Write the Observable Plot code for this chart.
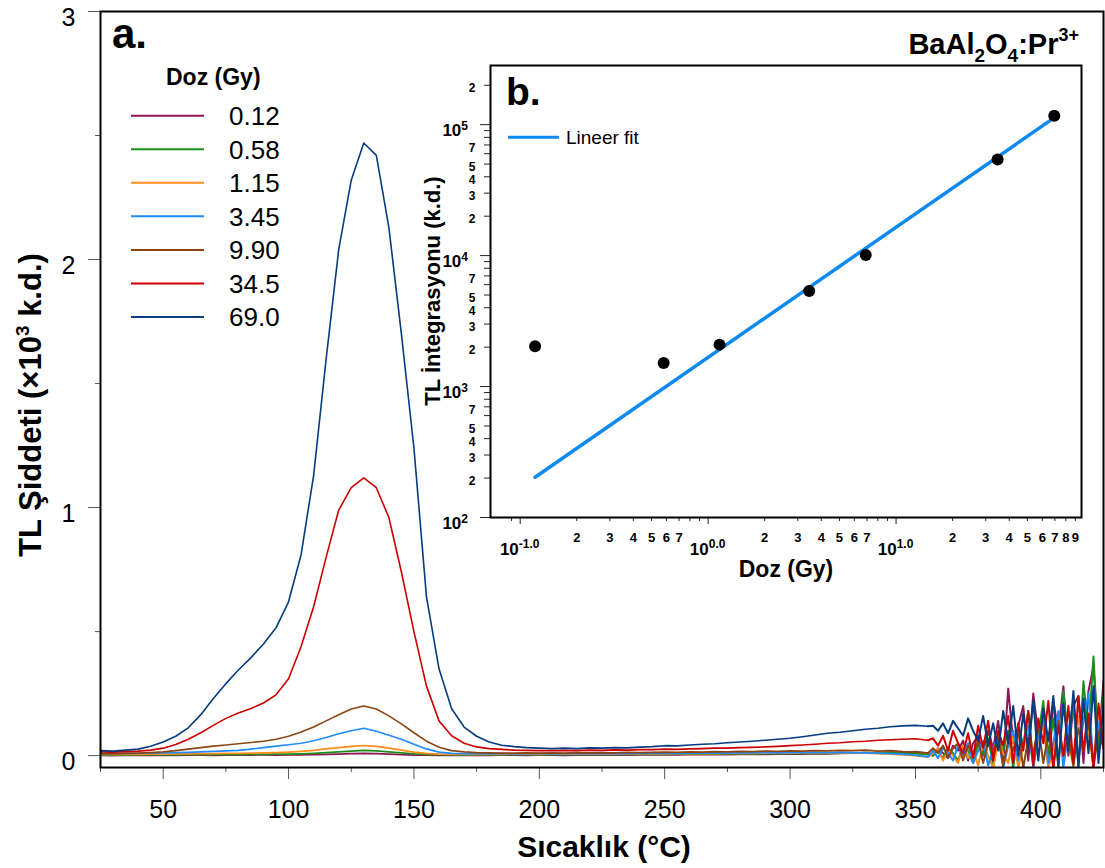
<!DOCTYPE html>
<html><head><meta charset="utf-8">
<script src="https://cdn.jsdelivr.net/npm/d3@7"></script>
<script src="https://cdn.jsdelivr.net/npm/@observablehq/plot@0.6"></script>
<style>
body{margin:0;background:#fff;font-family:"Liberation Sans",Arial,sans-serif;}
#wrap{position:relative;width:1105px;height:868px;overflow:hidden;}
#main,#inset{position:absolute;}
#main{left:0;top:0;}
#inset{left:420px;top:55px;}
</style></head><body><div id="wrap"><div id="main"></div><div id="inset"></div></div>
<script>
// ---------- data (panel a) ----------
const doses = ["0.12","0.58","1.15","3.45","9.90","34.5","69.0"];
const doseColors = ["#8c1654","#1a8f1a","#ff8c1a","#1e8cff","#8b4513","#cc0000","#063c82"];
const temps = [25,30,35,40,45,50,55,60,65,70,75,80,85,90,95,100,105,110,115,120,125,130,135,140,145,150,155,160,165,170,175,180,185,190,195,200,205,210,215,220,225,230,235,240,245,250,255,260,265,270,275,280,285,290,295,300,305,310,315,320,325,330,335,340,345,350,355,
  357,359,361,363,365,367,369,371,373,375,377,379,381,383,385,387,389,391,393,395,397,399,401,403,405,407,409,411,413,415,417,419,421,423,425];
const tl_0_12 = [0.001,0.000,0.001,0.002,0.001,0.002,0.001,0.002,0.002,0.001,0.002,0.002,0.002,0.003,0.002,0.003,0.003,0.004,0.005,0.006,0.008,0.009,0.008,0.006,0.004,0.002,0.002,0.001,0.002,0.001,0.002,0.001,0.002,0.002,0.001,0.002,0.002,0.001,0.002,0.003,0.002,0.003,0.002,0.003,0.003,0.004,0.003,0.004,0.004,0.005,0.004,0.005,0.006,0.005,0.006,0.007,0.006,0.008,0.007,0.009,0.010,0.012,0.010,0.014,0.012,0.016,0.010,
  0.00,0.03,0.01,-0.01,0.04,0.02,0.06,-0.02,0.05,0.08,0.00,0.10,0.03,0.14,-0.03,0.27,0.05,0.12,0.20,-0.02,0.25,0.08,0.18,-0.04,0.22,0.10,0.28,0.00,0.20,0.24,-0.03,0.26,0.36,0.05,0.30];
const tl_0_58 = [0.002,0.003,0.002,0.003,0.003,0.004,0.003,0.004,0.004,0.004,0.005,0.004,0.005,0.005,0.006,0.006,0.007,0.009,0.012,0.015,0.018,0.021,0.019,0.015,0.011,0.007,0.005,0.004,0.003,0.004,0.003,0.004,0.003,0.004,0.004,0.003,0.004,0.004,0.005,0.004,0.005,0.004,0.005,0.005,0.006,0.005,0.006,0.006,0.007,0.006,0.007,0.008,0.007,0.008,0.009,0.008,0.009,0.010,0.009,0.011,0.010,0.012,0.011,0.012,0.010,0.008,0.004,
  0.00,0.02,-0.01,0.03,0.01,-0.02,0.04,0.02,-0.03,0.05,0.00,0.07,-0.04,0.06,0.02,0.10,-0.05,0.12,0.04,0.18,-0.03,0.08,0.22,0.00,0.15,-0.05,0.26,0.05,0.20,-0.04,0.30,0.08,0.40,0.02,0.25];
const tl_1_15 = [0.005,0.004,0.005,0.005,0.006,0.006,0.007,0.007,0.008,0.008,0.009,0.009,0.010,0.011,0.012,0.014,0.017,0.021,0.027,0.032,0.037,0.041,0.037,0.030,0.022,0.014,0.009,0.006,0.005,0.006,0.005,0.006,0.005,0.006,0.006,0.005,0.006,0.006,0.007,0.006,0.007,0.006,0.007,0.007,0.008,0.007,0.008,0.008,0.009,0.008,0.009,0.010,0.009,0.010,0.011,0.010,0.011,0.012,0.011,0.012,0.011,0.010,0.008,0.006,0.003,0.000,-0.006,
  0.01,0.03,-0.02,0.02,0.00,-0.03,0.04,-0.01,0.02,-0.04,0.05,0.00,-0.05,0.06,0.01,-0.03,0.08,-0.05,0.04,0.10,-0.04,0.06,0.12,-0.05,0.03,0.14,-0.02,0.08,-0.05,0.16,0.02,0.10,-0.04,0.18,0.05];
const tl_3_45 = [0.008,0.008,0.009,0.009,0.010,0.011,0.012,0.013,0.015,0.017,0.019,0.021,0.026,0.032,0.038,0.044,0.050,0.060,0.073,0.088,0.100,0.110,0.098,0.082,0.066,0.046,0.027,0.014,0.009,0.008,0.008,0.007,0.008,0.007,0.008,0.008,0.007,0.008,0.008,0.009,0.008,0.009,0.008,0.009,0.009,0.010,0.009,0.010,0.010,0.011,0.010,0.011,0.011,0.012,0.011,0.012,0.012,0.013,0.012,0.013,0.012,0.011,0.010,0.008,0.006,0.002,-0.005,
  0.02,-0.01,0.03,0.01,-0.02,0.04,0.00,0.05,-0.03,0.02,0.06,-0.04,0.03,0.08,-0.05,0.04,0.10,-0.02,0.06,0.12,-0.05,0.08,0.15,-0.03,0.05,0.18,-0.05,0.10,0.22,-0.02,0.14,0.25,-0.04,0.12,0.20];
const tl_9_90 = [0.008,0.007,0.009,0.010,0.012,0.015,0.020,0.026,0.032,0.038,0.043,0.048,0.053,0.058,0.066,0.078,0.095,0.115,0.140,0.165,0.188,0.200,0.188,0.160,0.128,0.092,0.058,0.034,0.020,0.015,0.012,0.011,0.010,0.010,0.011,0.010,0.011,0.010,0.012,0.011,0.012,0.011,0.013,0.012,0.013,0.014,0.013,0.015,0.014,0.016,0.015,0.017,0.016,0.018,0.017,0.019,0.018,0.020,0.019,0.021,0.020,0.022,0.018,0.020,0.016,0.014,0.010,
  0.03,0.01,0.04,-0.01,0.03,0.05,-0.02,0.04,0.00,0.06,-0.03,0.05,0.01,0.08,-0.04,0.06,0.02,0.10,-0.05,0.07,0.01,0.12,-0.03,0.09,-0.05,0.14,0.00,0.08,-0.04,0.11,0.02,0.15,-0.05,0.10,0.03];
const tl_34_5 = [0.015,0.014,0.016,0.018,0.022,0.030,0.045,0.066,0.092,0.122,0.150,0.172,0.190,0.212,0.245,0.310,0.440,0.600,0.800,0.990,1.080,1.120,1.080,0.960,0.740,0.500,0.280,0.140,0.080,0.050,0.035,0.028,0.025,0.022,0.021,0.020,0.020,0.021,0.020,0.022,0.021,0.023,0.022,0.024,0.024,0.026,0.025,0.027,0.028,0.030,0.030,0.032,0.033,0.035,0.037,0.040,0.043,0.046,0.050,0.052,0.056,0.058,0.062,0.064,0.066,0.068,0.062,
  0.07,0.04,0.08,0.02,0.10,0.05,0.01,0.09,-0.01,0.12,0.03,0.14,-0.02,0.10,0.04,0.16,-0.03,0.13,0.02,0.18,-0.04,0.15,0.05,0.22,-0.05,0.12,0.00,0.20,-0.03,0.24,0.02,0.17,-0.05,0.21,0.03];
const tl_69_0 = [0.020,0.018,0.022,0.026,0.038,0.055,0.078,0.112,0.165,0.230,0.290,0.345,0.395,0.450,0.515,0.620,0.810,1.130,1.600,2.040,2.320,2.470,2.420,2.130,1.700,1.240,0.640,0.350,0.190,0.115,0.078,0.055,0.042,0.036,0.032,0.030,0.028,0.030,0.028,0.031,0.030,0.032,0.031,0.034,0.036,0.040,0.039,0.043,0.046,0.048,0.052,0.055,0.058,0.062,0.066,0.070,0.076,0.083,0.090,0.094,0.100,0.106,0.110,0.116,0.120,0.122,0.118,
  0.12,0.10,0.13,0.09,0.14,0.11,0.08,0.15,0.10,0.06,0.16,0.04,0.13,0.02,0.18,0.05,0.20,0.00,0.17,0.03,0.22,-0.02,0.19,0.06,0.24,-0.04,0.21,0.02,0.26,-0.05,0.23,0.01,0.28,-0.03,0.20];
const tlSeries = [tl_0_12, tl_0_58, tl_1_15, tl_3_45, tl_9_90, tl_34_5, tl_69_0];
const yMajorTicks = [0,1,2,3];
const yMinorTicks = [0.5,1.5,2.5];
const xMajorTicks = [50,100,150,200,250,300,350,400];
const xMinorTicks = [25,75,125,175,225,275,325,375,425];

// ---------- data (panel b) ----------
const insetDose = [0.12,0.58,1.15,3.45,6.9,34.7,69.5];
const insetTL = [2030,1510,2090,5370,10100,54300,117000];
const fitDose = [0.12,68];
const fitTL = [203,110700];
const insetXDecades = [0.1,1,10];
const insetXDecadeExp = ["-1.0","0.0","1.0"];
const insetXLabeled = [0.2,0.3,0.4,0.5,0.6,0.7,2,3,4,5,6,7,20,30,40,50,60,70,80,90];
const insetXUnlabeled = [0.09,0.8,0.9,8,9];
const insetYDecades = [100,1000,10000,100000];
const insetYDecadeExp = ["2","3","4","5"];
const insetYLabeled = [200,300,400,500,700,2000,3000,4000,5000,7000,20000,30000,40000,50000,70000,200000];
const insetYUnlabeled = [600,800,900,6000,8000,9000,60000,80000,90000];

// ---------- panel a ----------
const rows = [];
tlSeries.forEach((vals,i)=>vals.forEach((v,j)=>rows.push({T:temps[j], v, dose:doses[i]})));
const rowsLow = rows.filter(r=>r.T<=355);
const rowsHot = rows.filter(r=>r.T>=355);

const FONT = "Liberation Sans, Arial, sans-serif";
const main = Plot.plot({
  width:1105, height:868, marginLeft:100, marginRight:2, marginTop:11, marginBottom:101,
  style:{fontFamily:FONT, background:"white", overflow:"visible"},
  x:{domain:[25,425], label:null},
  y:{domain:[-0.048,3], label:null},
  color:{domain:doses, range:doseColors},
  marks:[
    Plot.line(rowsLow,{x:"T", y:"v", z:"dose", stroke:"dose", strokeWidth:1.6, clip:true}),
    Plot.line(rowsHot,{x:"T", y:"v", z:"dose", stroke:"dose", strokeWidth:2, clip:true}),
    Plot.axisY(yMajorTicks,{tickSize:12, tickFormat:()=>"", stroke:"#555", label:null}),
    Plot.text(yMajorTicks,{y:d=>d, frameAnchor:"left", dx:-25, dy:6, textAnchor:"end", text:d=>String(d), fontSize:25}),
    Plot.axisY(yMinorTicks,{tickSize:5, tickFormat:()=>"", stroke:"#555", label:null}),
    Plot.axisX(xMajorTicks,{tickSize:12, tickPadding:21, fontSize:25, tickFormat:d=>String(d), stroke:"#555", label:null}),
    Plot.axisX(xMinorTicks,{tickSize:5, tickFormat:()=>"", stroke:"#555", label:null}),
    Plot.frame({stroke:"black", strokeWidth:2})
  ]
});
document.getElementById("main").appendChild(main);

const ms = d3.select(main);
// axis titles
const yt = ms.append("text").attr("transform","translate(41,405) rotate(-90)")
  .attr("text-anchor","middle").attr("font-size",31).attr("font-weight","bold").attr("font-family",FONT);
yt.append("tspan").text("TL Şiddeti (×10");
yt.append("tspan").attr("dy",-12).attr("font-size",19).text("3");
yt.append("tspan").attr("dy",12).text(" k.d.)");
ms.append("text").attr("x",604).attr("y",857).attr("text-anchor","middle")
  .attr("font-size",30).attr("font-weight","bold").attr("font-family",FONT).text("Sıcaklık (°C)");
// panel label
ms.append("text").attr("x",112).attr("y",48).attr("text-anchor","start").attr("font-size",42).attr("font-weight","bold")
  .attr("font-family",FONT).text("a.");
// compound label
const cl = ms.append("text").attr("x",1079).attr("y",54).attr("text-anchor","end")
  .attr("font-size",29).attr("font-weight","bold").attr("font-family",FONT);
cl.append("tspan").text("BaAl");
cl.append("tspan").attr("dy",8).attr("font-size",19).text("2");
cl.append("tspan").attr("dy",-8).text("O");
cl.append("tspan").attr("dy",8).attr("font-size",19).text("4");
cl.append("tspan").attr("dy",-8).text(":Pr");
cl.append("tspan").attr("dy",-13).attr("font-size",18).text("3+");
// legend
ms.append("text").attr("x",166).attr("y",85).attr("text-anchor","start").attr("font-size",23).attr("font-weight","bold")
  .attr("font-family",FONT).text("Doz (Gy)");
doses.forEach((d,i)=>{
  const y = 115.7 + 33.55*i;
  ms.append("line").attr("x1",131).attr("x2",204).attr("y1",y).attr("y2",y)
    .attr("stroke",doseColors[i]).attr("stroke-width",2);
  ms.append("text").attr("x",229).attr("y",y).attr("dy","0.36em").attr("text-anchor","start").attr("font-size",26)
    .attr("font-family",FONT).text(d);
});

// ---------- panel b (inset) ----------
const pts = insetDose.map((d,i)=>({d, v:insetTL[i]}));
const fit = fitDose.map((d,i)=>({d, v:fitTL[i]}));
const firstDigit = v => String(Math.round(v/Math.pow(10,Math.floor(Math.log10(v)+1e-9))));
const inset = Plot.plot({
  width:685, height:540, marginLeft:70, marginRight:24, marginTop:10, marginBottom:78,
  style:{fontFamily:FONT, background:"transparent", overflow:"visible"},
  x:{type:"log", domain:[0.0695,97], label:null},
  y:{type:"log", domain:[100,283000], label:null},
  marks:[
    Plot.frame({fill:"white", stroke:"none"}),
    Plot.line(fit,{x:"d", y:"v", stroke:"#0d8af0", strokeWidth:3.5}),
    Plot.dot(pts,{x:"d", y:"v", r:6, fill:"black"}),
    Plot.axisX(insetXDecades,{tickSize:7, tickFormat:()=>"", stroke:"#222", label:null}),
    Plot.axisX(insetXUnlabeled,{tickSize:4, tickFormat:()=>"", stroke:"#222", label:null}),
    Plot.axisX(insetXLabeled,{tickSize:4, tickFormat:()=>"", stroke:"#222", label:null}),
    Plot.text(insetXLabeled,{x:d=>d, frameAnchor:"bottom", dy:24.5, text:firstDigit, fontSize:13, fontWeight:"bold"}),
    Plot.axisY(insetYDecades,{tickSize:10, tickFormat:()=>"", stroke:"#222", label:null}),
    Plot.axisY(insetYUnlabeled,{tickSize:6, tickFormat:()=>"", stroke:"#222", label:null}),
    Plot.axisY(insetYLabeled,{tickSize:6, tickFormat:()=>"", stroke:"#222", label:null}),
    Plot.text(insetYLabeled,{y:d=>d, frameAnchor:"left", dx:-15, dy:3, textAnchor:"end", text:firstDigit, fontSize:12, fontWeight:"bold"}),
    Plot.frame({stroke:"black", strokeWidth:2})
  ]
});
document.getElementById("inset").appendChild(inset);
const is = d3.select(inset);
const ix = inset.scale("x"), iy = inset.scale("y");
insetXDecades.forEach((d,i)=>{
  const t = is.append("text").attr("x",ix.apply(d)).attr("y",500).attr("text-anchor","middle")
    .attr("font-weight","bold").attr("font-family",FONT).attr("font-size",17);
  t.append("tspan").text("10");
  t.append("tspan").attr("dy",-7).attr("font-size",12).text(insetXDecadeExp[i]);
});
insetYDecades.forEach((d,i)=>{
  const t = is.append("text").attr("x",48).attr("y",iy.apply(d)+12).attr("text-anchor","end")
    .attr("font-weight","bold").attr("font-family",FONT).attr("font-size",17);
  t.append("tspan").text("10");
  t.append("tspan").attr("dy",-6).attr("font-size",12).text(insetYDecadeExp[i]);
});
is.append("text").attr("x",366).attr("y",522).attr("text-anchor","middle").attr("font-size",23)
  .attr("font-weight","bold").attr("font-family",FONT).text("Doz (Gy)");
is.append("text").attr("transform","translate(20,236) rotate(-90)").attr("text-anchor","middle")
  .attr("font-size",22).attr("font-weight","bold").attr("font-family",FONT).text("TL İntegrasyonu (k.d.)");
is.append("text").attr("x",86).attr("y",50).attr("text-anchor","start").attr("font-size",39).attr("font-weight","bold")
  .attr("font-family",FONT).text("b.");
is.append("line").attr("x1",88).attr("x2",139).attr("y1",82.3).attr("y2",82.3)
  .attr("stroke","#0d8af0").attr("stroke-width",3);
is.append("text").attr("x",146).attr("y",82.3).attr("dy","0.36em").attr("text-anchor","start").attr("font-size",19)
  .attr("font-family",FONT).text("Lineer fit");
</script></body></html>
